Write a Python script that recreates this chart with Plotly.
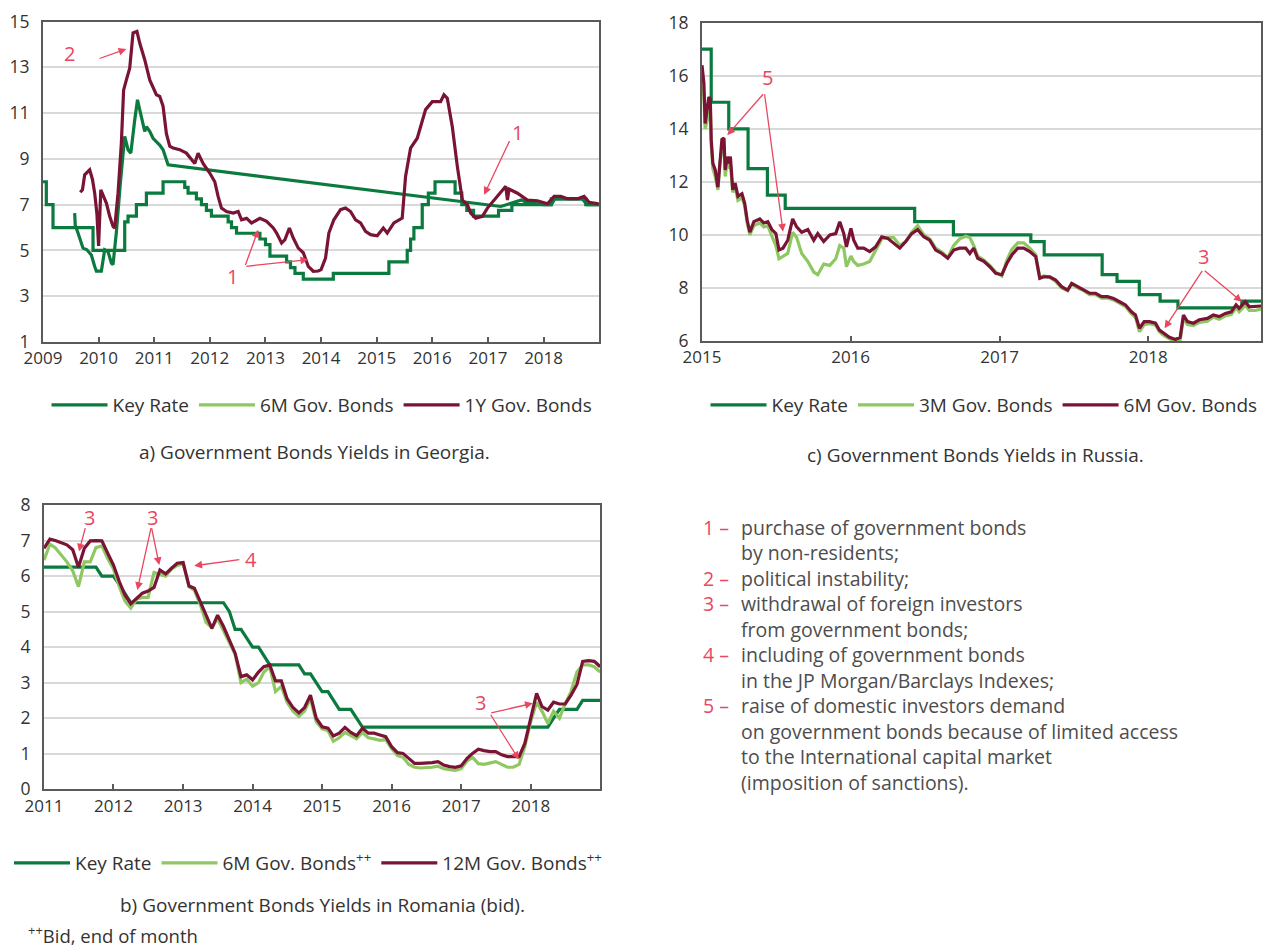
import plotly.graph_objects as go
import pandas as pd
from datetime import datetime

# ---------------- DATA ----------------
# Georgia (fractional years)
geo_key_t = [2009.0, 2009.06, 2009.18, 2009.9, 2010.47, 2010.53, 2010.68, 2010.86, 2011.16, 2011.55,
             2011.61, 2011.76, 2011.85, 2011.94, 2012.03, 2012.33, 2012.39, 2012.48, 2012.9, 2013.0,
             2013.08, 2013.38, 2013.45, 2013.53, 2013.68, 2014.22, 2015.22, 2015.55, 2015.61, 2015.67,
             2015.82, 2015.93, 2016.05, 2016.41, 2016.53, 2016.62, 2016.74, 2017.19, 2017.43, 2018.14,
             2018.76, 2019.0]
geo_key_v = [8, 7, 6, 5, 6.25, 6.5, 7, 7.5, 8, 7.75,
             7.5, 7.25, 7, 6.75, 6.5, 6.25, 6.0, 5.75, 5.5, 5.25,
             4.75, 4.5, 4.25, 4.0, 3.75, 4.0, 4.5, 5.0, 5.5, 6.0,
             7.0, 7.5, 8.0, 7.5, 7.0, 6.75, 6.5, 6.75, 7.0, 7.25,
             7.0, 7.0]

geo_6m_t = [2009.57, 2009.58, 2009.63, 2009.69, 2009.72, 2009.79, 2009.87, 2009.93, 2009.96, 2010.05,
            2010.11, 2010.17, 2010.23, 2010.26, 2010.32, 2010.39, 2010.47, 2010.53, 2010.58, 2010.65,
            2010.70, 2010.74, 2010.83, 2010.86, 2010.92, 2010.98, 2011.10, 2011.16, 2011.25, 2017.23,
            2017.35, 2017.47, 2017.6, 2017.7, 2017.85, 2018.0, 2018.14, 2018.2, 2018.7, 2018.78, 2019.0]
geo_6m_v = [6.63, 6.1, 5.76, 5.3, 5.1, 5.03, 4.8, 4.3, 4.1, 4.1,
            5.03, 4.95, 4.45, 4.38, 5.8, 7.9, 9.98, 9.4, 9.25, 10.7,
            11.58, 11.15, 10.2, 10.4, 10.2, 9.9, 9.6, 9.4, 8.74, 6.92,
            7.0, 7.1, 7.2, 7.1, 7.05, 7.0, 7.0, 7.25, 7.25, 7.0, 7.0]

geo_1y_t = [2009.67, 2009.71, 2009.75, 2009.79, 2009.84, 2009.89, 2009.93, 2009.97, 2010.0, 2010.04,
            2010.08, 2010.14, 2010.2, 2010.26, 2010.29, 2010.35, 2010.41, 2010.45, 2010.5, 2010.56,
            2010.62, 2010.69, 2010.74, 2010.83, 2010.92, 2010.98, 2011.04, 2011.1, 2011.16, 2011.22,
            2011.28, 2011.34, 2011.46, 2011.58, 2011.67, 2011.73, 2011.79, 2011.88, 2012.0, 2012.09,
            2012.15, 2012.21, 2012.3, 2012.42, 2012.51, 2012.57, 2012.66, 2012.75, 2012.9, 2013.02,
            2013.14, 2013.2, 2013.29, 2013.35, 2013.43, 2013.5, 2013.59, 2013.68, 2013.77, 2013.86,
            2013.95, 2014.0, 2014.08, 2014.14, 2014.23, 2014.35, 2014.44, 2014.53, 2014.62, 2014.71,
            2014.8, 2014.89, 2015.01, 2015.12, 2015.19, 2015.31, 2015.46, 2015.52, 2015.61, 2015.73,
            2015.88, 2016.0, 2016.15, 2016.21, 2016.27, 2016.36, 2016.45, 2016.54, 2016.63, 2016.69,
            2016.78, 2016.9, 2016.99, 2017.11, 2017.23, 2017.32, 2017.35, 2017.38, 2017.53, 2017.71,
            2017.89, 2018.07, 2018.19, 2018.31, 2018.43, 2018.61, 2018.73, 2018.82, 2018.99]
geo_1y_v = [7.54, 7.65, 8.3, 8.38, 8.52, 8.1, 7.5, 6.6, 5.2, 7.65,
            7.43, 7.07, 6.49, 6.05, 5.98, 7.5, 9.7, 12.0, 12.45, 12.96,
            14.5, 14.57, 14.06, 13.33, 12.45, 12.1, 11.8, 11.73, 11.3, 10.1,
            9.55, 9.47, 9.4, 9.25, 9.0, 8.8, 9.25, 8.8, 8.38, 8.0,
            7.36, 6.85, 6.7, 6.63, 6.7, 6.34, 6.4, 6.2, 6.4, 6.27,
            5.98, 5.76, 5.32, 5.47, 5.98, 5.54, 5.1, 4.9, 4.3, 4.09,
            4.1, 4.16, 4.67, 5.76, 6.34, 6.78, 6.85, 6.7, 6.34, 6.2,
            5.83, 5.69, 5.64, 5.98, 5.76, 6.2, 6.41, 8.23, 9.47, 9.9,
            11.15, 11.5, 11.5, 11.8, 11.65, 10.4, 8.67, 7.2, 7.0, 6.63,
            6.41, 6.49, 6.85, 7.2, 7.58, 7.8, 7.2, 7.68, 7.5, 7.2,
            7.17, 7.04, 7.36, 7.36, 7.26, 7.26, 7.36, 7.1, 7.04]

# Russia
rus_key_t = [2015.0, 2015.062, 2015.18, 2015.31, 2015.44, 2015.56, 2016.43, 2016.69, 2017.21, 2017.30,
             2017.69, 2017.79, 2017.94, 2018.08, 2018.2, 2018.63, 2018.76]
rus_key_v = [17, 15, 14, 12.5, 11.5, 11, 10.5, 10, 9.75, 9.25,
             8.5, 8.25, 7.75, 7.5, 7.25, 7.5, 7.5]

rus_t = [2015.0, 2015.013, 2015.021, 2015.035, 2015.046, 2015.056, 2015.062, 2015.073, 2015.089, 2015.107,
         2015.121, 2015.134, 2015.148, 2015.156, 2015.169, 2015.18, 2015.191, 2015.207, 2015.223, 2015.242,
         2015.269, 2015.287, 2015.304, 2015.322, 2015.349, 2015.389, 2015.416, 2015.443, 2015.47, 2015.497,
         2015.518, 2015.545, 2015.577, 2015.61, 2015.637, 2015.671, 2015.712, 2015.752, 2015.779, 2015.819,
         2015.86, 2015.9, 2015.927, 2015.954, 2015.972, 2016.002, 2016.021, 2016.048, 2016.088, 2016.128,
         2016.168, 2016.209, 2016.249, 2016.289, 2016.33, 2016.37, 2016.41, 2016.45, 2016.491, 2016.531,
         2016.571, 2016.612, 2016.652, 2016.692, 2016.732, 2016.773, 2016.8, 2016.826, 2016.853, 2016.894,
         2016.934, 2016.974, 2017.015, 2017.049, 2017.082, 2017.122, 2017.162, 2017.203, 2017.243, 2017.27,
         2017.297, 2017.337, 2017.377, 2017.417, 2017.458, 2017.485, 2017.525, 2017.565, 2017.605, 2017.646,
         2017.686, 2017.726, 2017.767, 2017.807, 2017.847, 2017.887, 2017.914, 2017.941, 2017.973, 2018.008,
         2018.049, 2018.075, 2018.102, 2018.143, 2018.183, 2018.215, 2018.237, 2018.264, 2018.304, 2018.344,
         2018.398, 2018.438, 2018.478, 2018.519, 2018.559, 2018.591, 2018.612, 2018.653, 2018.68, 2018.72,
         2018.76]
rus_6m = [16.4, 15.7, 14.2, 14.7, 15.2, 15.1, 13.6, 12.7, 12.45, 11.8,
          12.95, 13.6, 13.65, 12.45, 12.95, 12.7, 12.95, 11.7, 11.95, 11.45,
          11.55, 11.2, 10.55, 10.1, 10.5, 10.6, 10.45, 10.5, 10.2, 10.05,
          9.43, 9.5, 9.8, 10.6, 10.3, 10.1, 10.2, 9.8, 10.05, 9.75,
          10.0, 10.05, 10.5, 10.05, 9.55, 10.25, 9.8, 9.5, 9.5, 9.37,
          9.55, 9.93, 9.87, 9.68, 9.5, 9.75, 10.05, 10.2, 9.93, 9.8,
          9.43, 9.3, 9.12, 9.43, 9.5, 9.5, 9.3, 9.5, 9.12, 9.0,
          8.8, 8.55, 8.5, 8.93, 9.24, 9.5, 9.5, 9.37, 9.18, 8.36,
          8.42, 8.42, 8.3, 8.05, 7.92, 8.17, 8.05, 7.92, 7.8, 7.8,
          7.67, 7.67, 7.6, 7.48, 7.36, 7.1, 6.98, 6.48, 6.73, 6.73,
          6.67, 6.41, 6.29, 6.14, 6.06, 6.14, 6.98, 6.73, 6.67, 6.8,
          6.85, 6.98, 6.92, 7.04, 7.1, 7.36, 7.23, 7.48, 7.29, 7.29,
          7.32]
rus_3m = [16.1, 15.2, 14.0, 14.3, 14.9, 14.8, 13.4, 12.5, 12.2, 11.7,
          12.7, 13.3, 13.4, 12.2, 12.7, 12.5, 12.7, 11.6, 11.8, 11.3,
          11.4, 11.1, 10.45, 10.0, 10.35, 10.45, 10.3, 10.35, 9.95, 9.6,
          9.1, 9.2, 9.3, 10.1, 9.9, 9.3, 9.0, 8.6, 8.5, 8.9,
          8.85, 9.1, 9.6, 9.5, 8.8, 9.2, 9.0, 8.85, 8.9, 9.0,
          9.4, 9.85, 9.9, 9.9, 9.6, 9.75, 10.1, 10.35, 10.0, 9.85,
          9.5, 9.35, 9.15, 9.6, 9.85, 9.95, 9.9, 9.6, 9.2, 9.05,
          8.85, 8.6, 8.45, 9.05, 9.45, 9.7, 9.7, 9.5, 9.25, 8.4,
          8.45, 8.4, 8.25, 8.0, 7.9, 8.15, 8.0, 7.9, 7.75, 7.75,
          7.62, 7.62, 7.55, 7.42, 7.3, 7.02, 6.9, 6.35, 6.62, 6.65,
          6.6, 6.35, 6.22, 6.08, 6.0, 6.05, 6.85, 6.62, 6.58, 6.7,
          6.75, 6.9, 6.82, 6.95, 7.0, 7.25, 7.1, 7.35, 7.15, 7.15,
          7.2]

# Romania (monthly, Jan 2011 .. Jan 2019)
rom_key = [6.25, 6.25, 6.25, 6.25, 6.25, 6.25, 6.25, 6.25, 6.25, 6.25,
           6.0, 6.0, 6.0, 5.75, 5.5, 5.25, 5.25, 5.25, 5.25, 5.25,
           5.25, 5.25, 5.25, 5.25, 5.25, 5.25, 5.25, 5.25, 5.25, 5.25,
           5.25, 5.25, 5.0, 4.5, 4.5, 4.25, 4.0, 4.0, 3.75, 3.5,
           3.5, 3.5, 3.5, 3.5, 3.5, 3.25, 3.25, 3.0, 2.75, 2.75,
           2.5, 2.25, 2.25, 2.25, 2.0, 1.75, 1.75, 1.75, 1.75, 1.75,
           1.75, 1.75, 1.75, 1.75, 1.75, 1.75, 1.75, 1.75, 1.75, 1.75,
           1.75, 1.75, 1.75, 1.75, 1.75, 1.75, 1.75, 1.75, 1.75, 1.75,
           1.75, 1.75, 1.75, 1.75, 1.75, 1.75, 1.75, 1.75, 2.0, 2.25,
           2.25, 2.25, 2.25, 2.5, 2.5, 2.5, 2.5]
rom_6m = [6.45, 6.9, 6.8, 6.6, 6.4, 6.15, 5.7, 6.4, 6.4, 6.8,
          6.85, 6.5, 6.2, 5.7, 5.3, 5.1, 5.35, 5.4, 5.4, 6.1,
          6.05, 6.0, 6.2, 6.3, 6.35, 5.7, 5.6, 5.2, 4.7, 4.55,
          4.8, 4.45, 4.1, 3.8, 3.0, 3.1, 2.9, 3.0, 3.3, 3.45,
          2.75, 2.9, 2.45, 2.2, 2.05, 2.2, 2.55, 1.9, 1.7, 1.65,
          1.35, 1.45, 1.6, 1.5, 1.42, 1.6, 1.45, 1.42, 1.38, 1.4,
          1.15, 0.95, 0.9, 0.7, 0.62, 0.6, 0.6, 0.62, 0.65, 0.58,
          0.55, 0.53, 0.58, 0.8, 0.9, 0.72, 0.7, 0.75, 0.78, 0.7,
          0.62, 0.62, 0.7, 1.2, 1.9, 2.45, 2.2, 1.85, 2.2, 2.0,
          2.4, 2.75, 3.3, 3.5, 3.5, 3.45, 3.3]
rom_12m = [6.78, 7.04, 7.0, 6.95, 6.88, 6.74, 6.25, 6.78, 6.99, 7.0,
           6.99, 6.65, 6.31, 5.84, 5.47, 5.22, 5.38, 5.52, 5.58, 5.68,
           6.17, 6.06, 6.22, 6.36, 6.38, 5.72, 5.66, 5.28, 4.95, 4.53,
           4.9, 4.58, 4.2, 3.83, 3.17, 3.22, 3.08, 3.3, 3.45, 3.5,
           3.05, 3.05, 2.55, 2.3, 2.15, 2.3, 2.65, 2.0, 1.76, 1.72,
           1.5, 1.58, 1.74, 1.6, 1.51, 1.72, 1.58, 1.58, 1.53, 1.48,
           1.2, 1.03, 1.01, 0.87, 0.73, 0.73, 0.73, 0.75, 0.78, 0.68,
           0.64, 0.62, 0.66, 0.87, 1.01, 1.13, 1.09, 1.06, 1.06, 0.97,
           0.92, 0.92, 0.92, 1.29, 1.95, 2.7, 2.33, 2.23, 2.45, 2.4,
           2.4, 2.65, 2.95, 3.6, 3.62, 3.6, 3.45]

notes_num = ["1 –", "", "2 –", "3 –", "", "4 –", "", "5 –", "", "", ""]
notes_txt = ["purchase of government bonds", "by non-residents;", "political instability;",
             "withdrawal of foreign investors", "from government bonds;",
             "including of government bonds", "in the JP Morgan/Barclays Indexes;",
             "raise of domestic investors demand",
             "on government bonds because of limited access",
             "to the International capital market", "(imposition of sanctions)."]

# ---------------- STYLE ----------------
DG = '#0b7a3e'
LG = '#8fc862'
MR = '#7a1434'
RED = '#e8475f'
GRID = '#d9d9d9'
AX = '#5a5a5a'
TXT = '#333333'
FONT = 'Open Sans'
W, H = 1264, 947


def fy(y):
    yr = int(y)
    s = datetime(yr, 1, 1)
    e = datetime(yr + 1, 1, 1)
    return (s + (e - s) * (y - yr)).strftime('%Y-%m-%d %H:%M')


def dl(ts):
    return [fy(t) for t in ts]


rom_dates = pd.date_range('2011-01-01', periods=len(rom_key), freq='MS')

fig = go.Figure()
LW = 3.2
# Georgia
fig.add_trace(go.Scatter(x=dl(geo_key_t), y=geo_key_v, mode='lines', line=dict(color=DG, width=LW, shape='hv'),
                         name='Key Rate', legend='legend', xaxis='x', yaxis='y'))
fig.add_trace(go.Scatter(x=dl(geo_6m_t), y=geo_6m_v, mode='lines', line=dict(color=DG, width=LW),
                         name='6M Gov. Bonds', showlegend=False, xaxis='x', yaxis='y'))
fig.add_trace(go.Scatter(x=[None], y=[None], mode='lines', line=dict(color=LG, width=LW),
                         name='6M Gov. Bonds', legend='legend', xaxis='x', yaxis='y'))
fig.add_trace(go.Scatter(x=dl(geo_1y_t), y=geo_1y_v, mode='lines', line=dict(color=MR, width=LW),
                         name='1Y Gov. Bonds', legend='legend', xaxis='x', yaxis='y'))
# Russia
fig.add_trace(go.Scatter(x=dl(rus_key_t), y=rus_key_v, mode='lines', line=dict(color=DG, width=LW, shape='hv'),
                         name='Key Rate', legend='legend2', xaxis='x2', yaxis='y2'))
fig.add_trace(go.Scatter(x=dl(rus_t), y=rus_3m, mode='lines', line=dict(color=LG, width=LW),
                         name='3M Gov. Bonds', legend='legend2', xaxis='x2', yaxis='y2'))
fig.add_trace(go.Scatter(x=dl(rus_t), y=rus_6m, mode='lines', line=dict(color=MR, width=LW),
                         name='6M Gov. Bonds', legend='legend2', xaxis='x2', yaxis='y2'))
# Romania
fig.add_trace(go.Scatter(x=rom_dates, y=rom_key, mode='lines', line=dict(color=DG, width=LW),
                         name='Key Rate', legend='legend3', xaxis='x3', yaxis='y3'))
fig.add_trace(go.Scatter(x=rom_dates, y=rom_6m, mode='lines', line=dict(color=LG, width=LW),
                         name='6M Gov. Bonds<sup>++</sup>', legend='legend3', xaxis='x3', yaxis='y3'))
fig.add_trace(go.Scatter(x=rom_dates, y=rom_12m, mode='lines', line=dict(color=MR, width=LW),
                         name='12M Gov. Bonds<sup>++</sup>', legend='legend3', xaxis='x3', yaxis='y3'))


def xa(dom, r0, r1):
    return dict(domain=dom, type='date', range=[r0, r1], dtick='M12', tick0=r0, tickformat='%Y',
                ticks='inside', ticklen=5, tickwidth=1.5, tickcolor=AX, showline=True, linecolor=AX,
                linewidth=2, mirror=True, showgrid=False, zeroline=False, automargin=False,
                tickfont=dict(family=FONT, size=17, color=TXT))


def ya(dom, r0, r1, dt, anchor):
    return dict(domain=dom, range=[r0, r1], dtick=dt, tick0=r0, showgrid=True, gridcolor=GRID,
                gridwidth=1.5, showline=True, linecolor=AX, linewidth=2, mirror=True, ticks='',
                zeroline=False, ticklabelstandoff=8, anchor=anchor, automargin=False,
                tickfont=dict(family=FONT, size=17.5, color=TXT))


def px(v):
    return v / W


def py(v):
    return 1 - v / H


leg = dict(orientation='h', xanchor='center', yanchor='middle', font=dict(family=FONT, size=19, color=TXT),
           bgcolor='rgba(0,0,0,0)', itemwidth=56, tracegroupgap=0)

fig.update_layout(
    width=W, height=H, autosize=False, margin=dict(l=0, r=0, t=0, b=0, autoexpand=False),
    paper_bgcolor='white', plot_bgcolor='white',
    font=dict(family=FONT, color=TXT),
    xaxis=xa([px(43), px(599)], '2009-01-01', '2018-12-31') | dict(anchor='y'),
    yaxis=ya([py(342), py(21.5)], 1, 15, 2, 'x'),
    xaxis2=xa([px(702), px(1261)], '2015-01-01', '2018-10-05') | dict(anchor='y2'),
    yaxis2=ya([py(341), py(22.7)], 6, 18, 2, 'x2'),
    xaxis3=xa([px(44), px(600)], '2011-01-01', '2018-12-31') | dict(anchor='y3'),
    yaxis3=ya([py(789.3), py(505)], 0, 8, 1, 'x3'),
    legend=leg | dict(x=px(322), y=py(405)),
    legend2=leg | dict(x=px(984), y=py(405)),
    legend3=leg | dict(x=px(308), y=py(863)),
    showlegend=True,
)

ann = []
# captions
for x, y, t in [(314, 452, 'a) Government Bonds Yields in Georgia.'),
                (975, 455, 'c) Government Bonds Yields in Russia.'),
                (322, 905, 'b) Government Bonds Yields in Romania (bid).')]:
    ann.append(dict(x=px(x), y=py(y), xref='paper', yref='paper', text=t, showarrow=False,
                    xanchor='center', yanchor='middle', font=dict(family=FONT, size=19, color=TXT)))
ann.append(dict(x=px(26), y=py(934), xref='paper', yref='paper', text='<sup>++</sup>Bid, end of month',
                showarrow=False, xanchor='left', yanchor='middle', font=dict(family=FONT, size=18.5, color=TXT)))

# notes block
for i, (n, t) in enumerate(zip(notes_num, notes_txt)):
    yy = 527 + i * 25.5
    if n:
        ann.append(dict(x=px(731), y=py(yy), xref='paper', yref='paper', text=n, showarrow=False,
                        xanchor='right', yanchor='middle', font=dict(family=FONT, size=19.5, color=RED)))
    ann.append(dict(x=px(739), y=py(yy), xref='paper', yref='paper', text=t, showarrow=False,
                    xanchor='left', yanchor='middle', font=dict(family=FONT, size=19.5, color='#4d4d4d')))

# chart markers: (axis suffix, label, label pos, arrow tail, arrow heads)
markers = [
    ('', '2', (2009.48, 13.62), (2009.99, 13.36), [(2010.5, 13.8)]),
    ('', '1', (2012.41, 3.87), (2012.63, 4.3), [(2012.87, 5.9), (2013.77, 4.6)]),
    ('', '1', (2017.53, 10.13), (2017.4, 9.84), [(2016.93, 7.43)]),
    ('2', '5', (2015.44, 15.94), (2015.42, 15.36), [(2015.17, 13.76), (2015.545, 10.12)]),
    ('2', '3', (2018.37, 9.18), (2018.37, 8.7), [(2018.11, 6.48), (2018.63, 7.48)]),
    ('3', '3', (2011.657, 7.65), (2011.6, 7.39), [(2011.503, 6.69)]),
    ('3', '3', (2012.554, 7.65), (2012.543, 7.39), [(2012.343, 5.61), (2012.657, 6.31)]),
    ('3', '4', (2013.983, 6.48), (2013.83, 6.47), [(2013.16, 6.29)]),
    ('3', '3', (2017.274, 2.44), (2017.41, 2.14), [(2018.03, 2.42), (2017.83, 0.84)]),
]
for sfx, lab, lp, tp, heads in markers:
    xr, yr = 'x' + sfx, 'y' + sfx
    ann.append(dict(x=fy(lp[0]), y=lp[1], xref=xr, yref=yr, text=lab, showarrow=False,
                    xanchor='center', yanchor='middle', font=dict(family=FONT, size=20, color=RED)))
    for hx, hy in heads:
        ann.append(dict(x=fy(hx), y=hy, xref=xr, yref=yr, ax=fy(tp[0]), ay=tp[1], axref=xr, ayref=yr,
                        text='', showarrow=True, arrowhead=2, arrowsize=1.2, arrowwidth=1.3,
                        arrowcolor=RED, standoff=0))

fig.update_layout(annotations=ann)

fig.write_html('out.html', config={'displayModeBar': False},
               post_script="document.body.style.margin='0';")
